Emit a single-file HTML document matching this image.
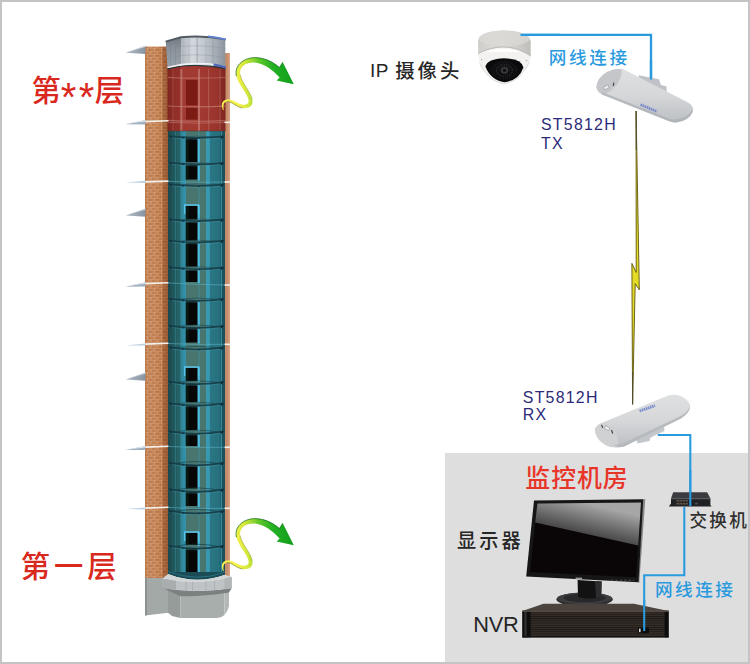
<!DOCTYPE html>
<html><head><meta charset="utf-8"><title>diagram</title>
<style>
html,body{margin:0;padding:0;background:#fff;}
body{width:750px;height:664px;overflow:hidden;}
svg{display:block}
text{font-family:"Liberation Sans","Noto Sans CJK SC",sans-serif;}
</style></head><body>
<svg width="750" height="664" viewBox="0 0 750 664">
<defs>
<pattern id="brick" width="7" height="6" patternUnits="userSpaceOnUse">
 <rect width="7" height="6" fill="#bf7a49"/>
 <rect x="0" y="0" width="7" height="0.7" fill="#ddb088" opacity=".38"/>
 <rect x="0" y="3" width="7" height="0.7" fill="#ddb088" opacity=".38"/>
 <rect x="0" y="0" width="1" height="3" fill="#e0b48e" opacity=".42"/>
 <rect x="3.5" y="3" width="1" height="3" fill="#e0b48e" opacity=".42"/>
 <rect x="2" y="1" width="3" height="1.6" fill="#a9623a" opacity=".3"/>
 <rect x="5.2" y="4" width="1.6" height="1.6" fill="#a9623a" opacity=".3"/>
 <rect x="1" y="4.1" width="2" height="1.4" fill="#d09466" opacity=".4"/>
</pattern>
<linearGradient id="brickshade" x1="0" x2="1" y1="0" y2="0">
 <stop offset="0" stop-color="#7a3c10" stop-opacity=".18"/>
 <stop offset="0.08" stop-color="#fff" stop-opacity=".04"/>
 <stop offset="0.3" stop-color="#fff" stop-opacity=".08"/>
 <stop offset="0.68" stop-color="#fff" stop-opacity="0"/>
 <stop offset="0.76" stop-color="#5a1c00" stop-opacity=".26"/>
 <stop offset="1" stop-color="#5a1c00" stop-opacity=".36"/>
</linearGradient>
<linearGradient id="glass" x1="0" x2="1" y1="0" y2="0">
 <stop offset="0" stop-color="#1a484c"/>
 <stop offset="0.10" stop-color="#20585c"/>
 <stop offset="0.21" stop-color="#266468"/>
 <stop offset="0.225" stop-color="#2f8496"/>
 <stop offset="0.31" stop-color="#3492ac"/>
 <stop offset="0.318" stop-color="#48766f"/>
 <stop offset="0.66" stop-color="#48766f"/>
 <stop offset="0.672" stop-color="#389ab2"/>
 <stop offset="0.725" stop-color="#389ab2"/>
 <stop offset="0.742" stop-color="#2a7684"/>
 <stop offset="0.9" stop-color="#27707e"/>
 <stop offset="0.93" stop-color="#1d545e"/>
 <stop offset="1" stop-color="#1b4e58"/>
</linearGradient>
<linearGradient id="redglass" x1="0" x2="1" y1="0" y2="0">
 <stop offset="0" stop-color="#7e2620"/>
 <stop offset="0.1" stop-color="#8e2d26"/>
 <stop offset="0.22" stop-color="#94302a"/>
 <stop offset="0.24" stop-color="#a03a32"/>
 <stop offset="0.55" stop-color="#a23a31"/>
 <stop offset="0.85" stop-color="#9a342c"/>
 <stop offset="0.93" stop-color="#8a2c26"/>
 <stop offset="1" stop-color="#7c2520"/>
</linearGradient>
<linearGradient id="capcyl" x1="0" x2="1" y1="0" y2="0">
 <stop offset="0" stop-color="#aab2b9"/>
 <stop offset="0.25" stop-color="#d2d8dd"/>
 <stop offset="0.5" stop-color="#c3cad0"/>
 <stop offset="0.8" stop-color="#a3abb3"/>
 <stop offset="1" stop-color="#8b939b"/>
</linearGradient>
<linearGradient id="arrowg" gradientUnits="userSpaceOnUse" x1="236" y1="80" x2="290" y2="75">
 <stop offset="0" stop-color="#f4f04e"/>
 <stop offset="0.2" stop-color="#cfe63a"/>
 <stop offset="0.45" stop-color="#62c82a"/>
 <stop offset="0.7" stop-color="#23b024"/>
 <stop offset="1" stop-color="#14a01c"/>
</linearGradient>
<linearGradient id="camtop" x1="0" x2="1" y1="0" y2="0">
 <stop offset="0" stop-color="#cfcdc9"/>
 <stop offset="0.3" stop-color="#dbd9d5"/>
 <stop offset="0.7" stop-color="#d2d0cc"/>
 <stop offset="1" stop-color="#c0beba"/>
</linearGradient>
<radialGradient id="dome" cx="0.5" cy="0.45" r="0.6">
 <stop offset="0" stop-color="#2c2c30"/>
 <stop offset="0.25" stop-color="#121214"/>
 <stop offset="1" stop-color="#050506"/>
</radialGradient>
<linearGradient id="cpe" x1="0" x2="0" y1="0" y2="1">
 <stop offset="0" stop-color="#dfe0e2"/>
 <stop offset="0.5" stop-color="#d5d7d9"/>
 <stop offset="1" stop-color="#bcbfc3"/>
</linearGradient>
<linearGradient id="screen" gradientUnits="userSpaceOnUse" x1="537" y1="503" x2="560" y2="545">
 <stop offset="0" stop-color="#b4b4b4"/>
 <stop offset="0.5" stop-color="#6a6a6a"/>
 <stop offset="1" stop-color="#1c1a1b"/>
</linearGradient>
<linearGradient id="ledgeg" x1="0" x2="1" y1="0" y2="0">
 <stop offset="0" stop-color="#b4bec8"/><stop offset="1" stop-color="#8793a0"/></linearGradient>
<linearGradient id="cappanel" x1="0" x2="0" y1="0" y2="1">
 <stop offset="0" stop-color="#727b82"/><stop offset="0.4" stop-color="#8a939a"/><stop offset="1" stop-color="#9aa3aa"/></linearGradient>
<pattern id="ribs" width="4" height="2.2" patternUnits="userSpaceOnUse">
 <rect width="4" height="2.2" fill="#362e29"/>
 <rect width="4" height="0.9" fill="#1d1815"/>
</pattern>
</defs>
<rect x="0" y="0" width="750" height="664" fill="#fff"/>
<rect x="445" y="453" width="305" height="211" fill="#dedede"/>
<g id="tower"><rect x="145" y="46.6" width="23.5" height="531.4" fill="url(#brick)"/>
<rect x="145" y="46.6" width="23.5" height="531.4" fill="url(#brickshade)"/>
<rect x="224.5" y="53" width="5.5" height="524.5" fill="#c68e6c"/>
<rect x="228.3" y="53" width="1.7" height="524.5" fill="#d9a588" opacity=".8"/>
<rect x="168" y="66" width="57" height="507" fill="url(#glass)"/>
<rect x="175.05" y="131" width="0.9" height="441" fill="#3f92a6" opacity="0.45"/>
<rect x="198.30" y="131" width="1.2" height="441" fill="#3f9ab4" opacity="0.5"/>
<rect x="220.85" y="131" width="1.1" height="441" fill="#3c9ab2" opacity="0.8"/>
<rect x="185.8" y="138" width="11.8" height="24" fill="#070707"/>
<rect x="185.8" y="138" width="3" height="24" fill="#0d2a22" opacity=".5"/>
<rect x="197.7" y="137" width="2.1" height="26" fill="#4cbae2"/>
<rect x="185.8" y="165" width="11.8" height="14.5" fill="#070707"/>
<rect x="185.8" y="165" width="3" height="14.5" fill="#0d2a22" opacity=".5"/>
<rect x="197.7" y="164" width="2.1" height="16.5" fill="#4cbae2"/>
<rect x="185.8" y="206" width="11.8" height="13.5" fill="#070707"/>
<rect x="185.8" y="206" width="3" height="13.5" fill="#0d2a22" opacity=".5"/>
<rect x="197.7" y="205" width="2.1" height="15.5" fill="#4cbae2"/>
<rect x="185.8" y="222" width="11.8" height="18.5" fill="#070707"/>
<rect x="185.8" y="222" width="3" height="18.5" fill="#0d2a22" opacity=".5"/>
<rect x="197.7" y="221" width="2.1" height="20.5" fill="#4cbae2"/>
<rect x="185.8" y="243" width="11.8" height="23.5" fill="#070707"/>
<rect x="185.8" y="243" width="3" height="23.5" fill="#0d2a22" opacity=".5"/>
<rect x="197.7" y="242" width="2.1" height="25.5" fill="#4cbae2"/>
<rect x="185.8" y="270" width="11.8" height="12" fill="#070707"/>
<rect x="185.8" y="270" width="3" height="12" fill="#0d2a22" opacity=".5"/>
<rect x="197.7" y="269" width="2.1" height="14" fill="#4cbae2"/>
<rect x="185.8" y="301" width="11.8" height="24" fill="#070707"/>
<rect x="185.8" y="301" width="3" height="24" fill="#0d2a22" opacity=".5"/>
<rect x="197.7" y="300" width="2.1" height="26" fill="#4cbae2"/>
<rect x="185.8" y="328" width="11.8" height="14.5" fill="#070707"/>
<rect x="185.8" y="328" width="3" height="14.5" fill="#0d2a22" opacity=".5"/>
<rect x="197.7" y="327" width="2.1" height="16.5" fill="#4cbae2"/>
<rect x="185.8" y="368" width="11.8" height="13" fill="#070707"/>
<rect x="185.8" y="368" width="3" height="13" fill="#0d2a22" opacity=".5"/>
<rect x="197.7" y="367" width="2.1" height="15" fill="#4cbae2"/>
<rect x="185.8" y="384" width="11.8" height="18" fill="#070707"/>
<rect x="185.8" y="384" width="3" height="18" fill="#0d2a22" opacity=".5"/>
<rect x="197.7" y="383" width="2.1" height="20" fill="#4cbae2"/>
<rect x="185.8" y="406" width="11.8" height="24" fill="#070707"/>
<rect x="185.8" y="406" width="3" height="24" fill="#0d2a22" opacity=".5"/>
<rect x="197.7" y="405" width="2.1" height="26" fill="#4cbae2"/>
<rect x="185.8" y="434" width="11.8" height="12" fill="#070707"/>
<rect x="185.8" y="434" width="3" height="12" fill="#0d2a22" opacity=".5"/>
<rect x="197.7" y="433" width="2.1" height="14" fill="#4cbae2"/>
<rect x="185.8" y="465" width="11.8" height="23.5" fill="#070707"/>
<rect x="185.8" y="465" width="3" height="23.5" fill="#0d2a22" opacity=".5"/>
<rect x="197.7" y="464" width="2.1" height="25.5" fill="#4cbae2"/>
<rect x="185.8" y="492" width="11.8" height="14" fill="#070707"/>
<rect x="185.8" y="492" width="3" height="14" fill="#0d2a22" opacity=".5"/>
<rect x="197.7" y="491" width="2.1" height="16" fill="#4cbae2"/>
<rect x="185.8" y="533" width="11.8" height="12" fill="#070707"/>
<rect x="185.8" y="533" width="3" height="12" fill="#0d2a22" opacity=".5"/>
<rect x="197.7" y="532" width="2.1" height="14" fill="#4cbae2"/>
<rect x="185.8" y="548" width="11.8" height="26" fill="#070707"/>
<rect x="185.8" y="548" width="3" height="26" fill="#0d2a22" opacity=".5"/>
<rect x="197.7" y="547" width="2.1" height="28" fill="#4cbae2"/>
<path d="M184.6,214 V205 H198.6 V214" fill="none" stroke="#58c4ea" stroke-width="1.3"/>
<path d="M184.6,376 V367 H198.6 V376" fill="none" stroke="#58c4ea" stroke-width="1.3"/>
<path d="M184.6,541 V532 H198.6 V541" fill="none" stroke="#58c4ea" stroke-width="1.3"/>
<path d="M170,138.2 Q196,134.35 223,138.0" fill="none" stroke="#163d47" stroke-width="1.0" opacity="0.35"/>
<path d="M168.5,136.2 Q196,139.44 224.5,136.4" fill="none" stroke="#163d47" stroke-width="1.7" opacity=".9"/>
<path d="M168.5,137.6 Q196,140.84 224.5,137.8" fill="none" stroke="#4aa0b4" stroke-width="0.7" opacity=".45"/>
<circle cx="222" cy="137.2" r="1.5" fill="#10303a"/>
<circle cx="170.6" cy="137" r="1.2" fill="#143640"/>
<circle cx="183" cy="137.73" r="0.9" fill="#143640"/>
<circle cx="199" cy="137.97" r="0.9" fill="#143640"/>
<path d="M170,164.7 Q196,160.65 223,164.5" fill="none" stroke="#163d47" stroke-width="1.0" opacity="0.38"/>
<path d="M168.5,162.7 Q196,166.09 224.5,162.9" fill="none" stroke="#163d47" stroke-width="1.7" opacity=".9"/>
<path d="M168.5,164.1 Q196,167.49 224.5,164.3" fill="none" stroke="#4aa0b4" stroke-width="0.7" opacity=".45"/>
<circle cx="222" cy="163.7" r="1.5" fill="#10303a"/>
<circle cx="170.6" cy="163.5" r="1.2" fill="#143640"/>
<circle cx="183" cy="164.28" r="0.9" fill="#143640"/>
<circle cx="199" cy="164.54" r="0.9" fill="#143640"/>
<path d="M170,186.2 Q196,181.99 223,186.0" fill="none" stroke="#163d47" stroke-width="1.0" opacity="0.39"/>
<path d="M168.5,184.2 Q196,187.72 224.5,184.4" fill="none" stroke="#163d47" stroke-width="1.7" opacity=".9"/>
<path d="M168.5,185.6 Q196,189.12 224.5,185.8" fill="none" stroke="#4aa0b4" stroke-width="0.7" opacity=".45"/>
<circle cx="222" cy="185.2" r="1.5" fill="#10303a"/>
<circle cx="170.6" cy="185" r="1.2" fill="#143640"/>
<circle cx="183" cy="185.81" r="0.9" fill="#143640"/>
<circle cx="199" cy="186.09" r="0.9" fill="#143640"/>
<path d="M170,221.2 Q196,216.72 223,221.0" fill="none" stroke="#163d47" stroke-width="1.0" opacity="0.42"/>
<path d="M168.5,219.2 Q196,222.92 224.5,219.4" fill="none" stroke="#163d47" stroke-width="1.7" opacity=".9"/>
<path d="M168.5,220.6 Q196,224.32 224.5,220.8" fill="none" stroke="#4aa0b4" stroke-width="0.7" opacity=".45"/>
<circle cx="222" cy="220.2" r="1.5" fill="#10303a"/>
<circle cx="170.6" cy="220" r="1.2" fill="#143640"/>
<circle cx="183" cy="220.88" r="0.9" fill="#143640"/>
<circle cx="199" cy="221.17" r="0.9" fill="#143640"/>
<path d="M170,242.5 Q196,237.86 223,242.3" fill="none" stroke="#163d47" stroke-width="1.0" opacity="0.44"/>
<path d="M168.5,240.5 Q196,244.34 224.5,240.70000000000002" fill="none" stroke="#163d47" stroke-width="1.7" opacity=".9"/>
<path d="M168.5,241.9 Q196,245.74 224.5,242.10000000000002" fill="none" stroke="#4aa0b4" stroke-width="0.7" opacity=".45"/>
<circle cx="222" cy="241.5" r="1.5" fill="#10303a"/>
<circle cx="170.6" cy="241.3" r="1.2" fill="#143640"/>
<circle cx="183" cy="242.21" r="0.9" fill="#143640"/>
<circle cx="199" cy="242.52" r="0.9" fill="#143640"/>
<path d="M170,269.2 Q196,264.35 223,269.0" fill="none" stroke="#163d47" stroke-width="1.0" opacity="0.46"/>
<path d="M168.5,267.2 Q196,271.20 224.5,267.4" fill="none" stroke="#163d47" stroke-width="1.7" opacity=".9"/>
<path d="M168.5,268.6 Q196,272.60 224.5,268.8" fill="none" stroke="#4aa0b4" stroke-width="0.7" opacity=".45"/>
<circle cx="222" cy="268.2" r="1.5" fill="#10303a"/>
<circle cx="170.6" cy="268" r="1.2" fill="#143640"/>
<circle cx="183" cy="268.96" r="0.9" fill="#143640"/>
<circle cx="199" cy="269.28" r="0.9" fill="#143640"/>
<path d="M170,300.7 Q196,295.61 223,300.5" fill="none" stroke="#163d47" stroke-width="1.0" opacity="0.48"/>
<path d="M168.5,298.7 Q196,302.88 224.5,298.9" fill="none" stroke="#163d47" stroke-width="1.7" opacity=".9"/>
<path d="M168.5,300.1 Q196,304.28 224.5,300.3" fill="none" stroke="#4aa0b4" stroke-width="0.7" opacity=".45"/>
<circle cx="222" cy="299.7" r="1.5" fill="#10303a"/>
<circle cx="170.6" cy="299.5" r="1.2" fill="#143640"/>
<circle cx="183" cy="300.52" r="0.9" fill="#143640"/>
<circle cx="199" cy="300.85" r="0.9" fill="#143640"/>
<path d="M170,327.7 Q196,322.41 223,327.5" fill="none" stroke="#163d47" stroke-width="1.0" opacity="0.50"/>
<path d="M168.5,325.7 Q196,330.04 224.5,325.9" fill="none" stroke="#163d47" stroke-width="1.7" opacity=".9"/>
<path d="M168.5,327.1 Q196,331.44 224.5,327.3" fill="none" stroke="#4aa0b4" stroke-width="0.7" opacity=".45"/>
<circle cx="222" cy="326.7" r="1.5" fill="#10303a"/>
<circle cx="170.6" cy="326.5" r="1.2" fill="#143640"/>
<circle cx="183" cy="327.56" r="0.9" fill="#143640"/>
<circle cx="199" cy="327.92" r="0.9" fill="#143640"/>
<path d="M170,349.2 Q196,343.74 223,349.0" fill="none" stroke="#163d47" stroke-width="1.0" opacity="0.52"/>
<path d="M168.5,347.2 Q196,351.67 224.5,347.4" fill="none" stroke="#163d47" stroke-width="1.7" opacity=".9"/>
<path d="M168.5,348.6 Q196,353.07 224.5,348.8" fill="none" stroke="#4aa0b4" stroke-width="0.7" opacity=".45"/>
<circle cx="222" cy="348.2" r="1.5" fill="#10303a"/>
<circle cx="170.6" cy="348" r="1.2" fill="#143640"/>
<circle cx="183" cy="349.10" r="0.9" fill="#143640"/>
<circle cx="199" cy="349.47" r="0.9" fill="#143640"/>
<path d="M170,383.7 Q196,377.98 223,383.5" fill="none" stroke="#163d47" stroke-width="1.0" opacity="0.55"/>
<path d="M168.5,381.7 Q196,386.37 224.5,381.9" fill="none" stroke="#163d47" stroke-width="1.7" opacity=".9"/>
<path d="M168.5,383.1 Q196,387.77 224.5,383.3" fill="none" stroke="#4aa0b4" stroke-width="0.7" opacity=".45"/>
<circle cx="222" cy="382.7" r="1.5" fill="#10303a"/>
<circle cx="170.6" cy="382.5" r="1.2" fill="#143640"/>
<circle cx="183" cy="383.66" r="0.9" fill="#143640"/>
<circle cx="199" cy="384.05" r="0.9" fill="#143640"/>
<path d="M170,405.2 Q196,399.31 223,405.0" fill="none" stroke="#163d47" stroke-width="1.0" opacity="0.56"/>
<path d="M168.5,403.2 Q196,408.00 224.5,403.4" fill="none" stroke="#163d47" stroke-width="1.7" opacity=".9"/>
<path d="M168.5,404.6 Q196,409.40 224.5,404.8" fill="none" stroke="#4aa0b4" stroke-width="0.7" opacity=".45"/>
<circle cx="222" cy="404.2" r="1.5" fill="#10303a"/>
<circle cx="170.6" cy="404" r="1.2" fill="#143640"/>
<circle cx="183" cy="405.20" r="0.9" fill="#143640"/>
<circle cx="199" cy="405.60" r="0.9" fill="#143640"/>
<path d="M170,433.2 Q196,427.10 223,433.0" fill="none" stroke="#163d47" stroke-width="1.0" opacity="0.59"/>
<path d="M168.5,431.2 Q196,436.16 224.5,431.4" fill="none" stroke="#163d47" stroke-width="1.7" opacity=".9"/>
<path d="M168.5,432.6 Q196,437.56 224.5,432.8" fill="none" stroke="#4aa0b4" stroke-width="0.7" opacity=".45"/>
<circle cx="222" cy="432.2" r="1.5" fill="#10303a"/>
<circle cx="170.6" cy="432" r="1.2" fill="#143640"/>
<circle cx="183" cy="433.25" r="0.9" fill="#143640"/>
<circle cx="199" cy="433.66" r="0.9" fill="#143640"/>
<path d="M170,464.7 Q196,458.36 223,464.5" fill="none" stroke="#163d47" stroke-width="1.0" opacity="0.61"/>
<path d="M168.5,462.7 Q196,467.84 224.5,462.9" fill="none" stroke="#163d47" stroke-width="1.7" opacity=".9"/>
<path d="M168.5,464.1 Q196,469.24 224.5,464.3" fill="none" stroke="#4aa0b4" stroke-width="0.7" opacity=".45"/>
<circle cx="222" cy="463.7" r="1.5" fill="#10303a"/>
<circle cx="170.6" cy="463.5" r="1.2" fill="#143640"/>
<circle cx="183" cy="464.80" r="0.9" fill="#143640"/>
<circle cx="199" cy="465.24" r="0.9" fill="#143640"/>
<path d="M170,491.2 Q196,484.66 223,491.0" fill="none" stroke="#163d47" stroke-width="1.0" opacity="0.63"/>
<path d="M168.5,489.2 Q196,494.50 224.5,489.4" fill="none" stroke="#163d47" stroke-width="1.7" opacity=".9"/>
<path d="M168.5,490.6 Q196,495.90 224.5,490.8" fill="none" stroke="#4aa0b4" stroke-width="0.7" opacity=".45"/>
<circle cx="222" cy="490.2" r="1.5" fill="#10303a"/>
<circle cx="170.6" cy="490" r="1.2" fill="#143640"/>
<circle cx="183" cy="491.35" r="0.9" fill="#143640"/>
<circle cx="199" cy="491.80" r="0.9" fill="#143640"/>
<path d="M170,512.7 Q196,505.99 223,512.5" fill="none" stroke="#163d47" stroke-width="1.0" opacity="0.65"/>
<path d="M168.5,510.7 Q196,516.12 224.5,510.9" fill="none" stroke="#163d47" stroke-width="1.7" opacity=".9"/>
<path d="M168.5,512.1 Q196,517.52 224.5,512.3" fill="none" stroke="#4aa0b4" stroke-width="0.7" opacity=".45"/>
<circle cx="222" cy="511.7" r="1.5" fill="#10303a"/>
<circle cx="170.6" cy="511.5" r="1.2" fill="#143640"/>
<circle cx="183" cy="512.89" r="0.9" fill="#143640"/>
<circle cx="199" cy="513.35" r="0.9" fill="#143640"/>
<path d="M170,547.7 Q196,540.73 223,547.5" fill="none" stroke="#163d47" stroke-width="1.0" opacity="0.68"/>
<path d="M168.5,545.7 Q196,551.33 224.5,545.9" fill="none" stroke="#163d47" stroke-width="1.7" opacity=".9"/>
<path d="M168.5,547.1 Q196,552.73 224.5,547.3" fill="none" stroke="#4aa0b4" stroke-width="0.7" opacity=".45"/>
<circle cx="222" cy="546.7" r="1.5" fill="#10303a"/>
<circle cx="170.6" cy="546.5" r="1.2" fill="#143640"/>
<circle cx="183" cy="547.95" r="0.9" fill="#143640"/>
<circle cx="199" cy="548.43" r="0.9" fill="#143640"/>
<rect x="167.5" y="66" width="58" height="65" fill="url(#redglass)"/>
<rect x="186" y="80" width="11.5" height="25.3" fill="#7c1a14"/>
<rect x="186" y="107.6" width="11.5" height="12" fill="#7c1a14"/>
<rect x="172.6" y="69" width="0.8" height="62" fill="#c98a80" opacity="0.35"/>
<rect x="180.20000000000002" y="69" width="2.2" height="62" fill="#c98a80" opacity="0.55"/>
<rect x="198.0" y="69" width="2.0" height="62" fill="#c98a80" opacity="0.6"/>
<rect x="208.2" y="69" width="1.0" height="62" fill="#c98a80" opacity="0.45"/>
<rect x="219.5" y="69" width="1.0" height="62" fill="#c98a80" opacity="0.4"/>
<path d="M168,77.3 Q196,78.89999999999999 225,77.5" fill="none" stroke="#c98a80" stroke-width="1.2" opacity="0.5"/>
<path d="M168,106 Q196,107.6 225,106.2" fill="none" stroke="#c98a80" stroke-width="1.2" opacity="0.6"/>
<path d="M168,120.4 Q196,122.0 225,120.60000000000001" fill="none" stroke="#c98a80" stroke-width="1.2" opacity="0.55"/>
<path d="M168,122.4 Q196,123.8 225,122.6" fill="none" stroke="#d09a90" stroke-width="0.9" opacity=".45"/>
<path d="M167.5,131 H225.5" stroke="#4a3434" stroke-width="1" opacity=".5"/>
<path d="M145,121.6 L168.5,120.8" stroke="#f4f1ec" stroke-width="1.6"/>
<path d="M224.5,122.3 L230,122.3" stroke="#f6f3ef" stroke-width="1.6"/>
<path d="M145,181.9 L168.5,181.10000000000002" stroke="#f4f1ec" stroke-width="1.6"/>
<path d="M224.5,182 L230,182" stroke="#f6f3ef" stroke-width="1.6"/>
<path d="M168.5,181.3 Q196,182.8 224.5,182" stroke="#5fb4c8" stroke-width="1" fill="none" opacity=".55"/>
<path d="M145,283.6 L168.5,282.8" stroke="#f4f1ec" stroke-width="1.6"/>
<path d="M224.5,285 L230,285" stroke="#f6f3ef" stroke-width="1.6"/>
<path d="M168.5,283 Q196,284.5 224.5,285" stroke="#5fb4c8" stroke-width="1" fill="none" opacity=".55"/>
<path d="M145,344.1 L168.5,343.3" stroke="#f4f1ec" stroke-width="1.6"/>
<path d="M224.5,344.3 L230,344.3" stroke="#f6f3ef" stroke-width="1.6"/>
<path d="M168.5,343.5 Q196,345.0 224.5,344.3" stroke="#5fb4c8" stroke-width="1" fill="none" opacity=".55"/>
<path d="M145,447.1 L168.5,446.3" stroke="#f4f1ec" stroke-width="1.6"/>
<path d="M224.5,447.3 L230,447.3" stroke="#f6f3ef" stroke-width="1.6"/>
<path d="M168.5,446.5 Q196,448.0 224.5,447.3" stroke="#5fb4c8" stroke-width="1" fill="none" opacity=".55"/>
<path d="M145,508.1 L168.5,507.3" stroke="#f4f1ec" stroke-width="1.6"/>
<path d="M224.5,508.3 L230,508.3" stroke="#f6f3ef" stroke-width="1.6"/>
<path d="M168.5,507.5 Q196,509.0 224.5,508.3" stroke="#5fb4c8" stroke-width="1" fill="none" opacity=".55"/>
<path d="M125.6,52.8 L145.5,45.699999999999996 L145.5,54.099999999999994 Z" fill="url(#ledgeg)"/><path d="M125.6,52.599999999999994 L145.5,45.699999999999996 L145.5,47.099999999999994 Z" fill="#dfe5ea" opacity=".8"/>
<path d="M125.6,215.5 L145.5,208.4 L145.5,216.8 Z" fill="url(#ledgeg)"/><path d="M125.6,215.3 L145.5,208.4 L145.5,209.8 Z" fill="#dfe5ea" opacity=".8"/>
<path d="M125.6,379.5 L145.5,372.4 L145.5,380.8 Z" fill="url(#ledgeg)"/><path d="M125.6,379.3 L145.5,372.4 L145.5,373.8 Z" fill="#dfe5ea" opacity=".8"/>
<path d="M125.5,124.2 L145.5,120 L145.5,124.4 Z" fill="#9fb0c0"/><path d="M125.5,124 L145.5,120 L145.5,121.6 Z" fill="#e1e8ee"/>
<path d="M125.5,182.6 L145.5,180.8 L145.5,183 Z" fill="#bdd0e2"/>
<path d="M125.5,286.8 L145.5,282.2 L145.5,286.6 Z" fill="#9fb0c0"/><path d="M125.5,286.5 L145.5,282.2 L145.5,283.6 Z" fill="#dfe7ee"/>
<path d="M125.5,345.4 L145.5,343.4 L145.5,345.6 Z" fill="#bdd0e2"/>
<path d="M125.5,450 L145.5,446 L145.5,450 Z" fill="#9fb0c0"/><path d="M125.5,449.8 L145.5,446 L145.5,447.5 Z" fill="#dfe7ee"/>
<path d="M125.5,509 L145.5,507.4 L145.5,509.4 Z" fill="#bdd0e2"/>
<path d="M165.8,41.6 L181,37.2 L181.6,64.8 L167.5,67.9 Z" fill="url(#cappanel)"/>
<path d="M181,37.2 Q203,34.8 225.3,39.3 L225.3,67.6 Q203,62.8 181.6,64.8 Z" fill="url(#capcyl)"/>
<path d="M170.5,40.6 V66.4" stroke="#7a838a" stroke-width="0.6" opacity=".7"/>
<path d="M175.5,40.6 V66.4" stroke="#7a838a" stroke-width="0.6" opacity=".7"/>
<path d="M189,36.6 V64" stroke="#7f8890" stroke-width="0.7" opacity="0.35"/>
<path d="M197.2,36.6 V64" stroke="#7f8890" stroke-width="0.7" opacity="0.8"/>
<path d="M206,36.6 V64" stroke="#7f8890" stroke-width="0.7" opacity="0.35"/>
<path d="M213,36.6 V64" stroke="#7f8890" stroke-width="0.7" opacity="0.5"/>
<path d="M166.6,50.1 L181.2,46.5 Q203,44.3 225.3,48.7" stroke="#858e96" stroke-width="0.6" fill="none" opacity=".6"/>
<path d="M166.6,59.1 L181.2,55.5 Q203,53.3 225.3,57.7" stroke="#858e96" stroke-width="0.6" fill="none" opacity=".6"/>
<path d="M165.6,41.7 L181,37.3 Q203,34.9 225.5,39.4" stroke="#535b64" stroke-width="1.9" fill="none"/>
<path d="M208,36.4 Q217,37.2 225.9,39.6" stroke="#6080d2" stroke-width="1.7" fill="none"/>
<path d="M167.4,68.9 L181.6,66 Q203,63.8 225.4,68.6" stroke="#27383c" stroke-width="1.2" fill="none"/>
<path d="M167.4,67.5 L181.6,64.6 Q200,62.6 214,64.6" stroke="#f0f3f6" stroke-width="1.5" fill="none"/>
<path d="M213.5,64.5 Q220,65.4 225.9,67.6" stroke="#4a68c2" stroke-width="1.9" fill="none"/>
<path d="M145,578 H168.5 V612.8 L145,615.4 Z" fill="#a3a9a7"/>
<path d="M145,578 H147 V615.2 L145,615.4 Z" fill="#8c9290"/>
<path d="M168,588 L180.5,594 L180.5,618 L172,616 L168,612.8 Z" fill="#969c9a"/>
<path d="M180.5,593 H224.5 V615 Q221,618 216,618 H180.5 Z" fill="#a8aeac"/>
<path d="M224.5,588 H229 V606 Q228,611 224.5,615 Z" fill="#b3b7b7"/>
<path d="M163,587.9 Q196.6,594.1 231.8,587.9 L229,592.5 Q200,597 180.5,596.2 L168,590.4 Z" fill="#7b8181"/>
<path d="M168,572 V574 Q196.5,585.3 225,574.7 V572 Z" fill="#1b4c56"/>
<path d="M168,571.5 Q196.5,582.6 225,572.2" fill="none" stroke="#2f7f90" stroke-width="1" opacity=".7"/>
<path d="M168,574 L162.1,578.8 Q196.6,585.5 231.8,576.9 L225,574.7 Q196.5,585.3 168,574 Z" fill="#d2d6d7"/>
<path d="M162.1,578.8 Q196.6,585.5 231.8,576.9 L231.8,587.9 Q196.6,594.1 163,587.9 Z" fill="#bfc3c5"/>
<path d="M162.1,578.8 L176,580.7 L176,590.2 L163,587.9 Z" fill="#a9adaf"/>
<path d="M224.5,578.6 L231.8,576.9 L231.8,587.9 L224.5,589.4 Z" fill="#b2b6b8"/>
<path d="M186,581.6 v9.6" stroke="#a4a8aa" stroke-width="0.7"/>
<path d="M192.5,581.9 v9.6" stroke="#a4a8aa" stroke-width="0.7"/>
<path d="M206,581.7 v9.6" stroke="#a4a8aa" stroke-width="0.7"/>
<path d="M214.5,581 v9.6" stroke="#a4a8aa" stroke-width="0.7"/></g>
<g transform="translate(0,0)"><path d="M222.9,110 C220.6,105 221.8,100.4 226.6,99.4 C232,98.8 236.6,103.2 242,104.6 C246.6,105.6 249.6,103.8 248.4,99.2 C246.4,92 238.4,84.6 236.4,76.2 C234.2,66 242.6,58.2 254.4,57.6 C264.2,57.6 272.8,61.6 279.4,67.6 L282.8,62.2 L293.8,84.2 L276.6,80.4 L279.6,77.4 C272.6,69.6 264.2,63.6 255,62.4 C245.6,62 239,66.8 240.2,74.6 C241.6,83 250.4,91 252.2,99.6 C253.6,106.4 248.6,109 242.4,108 C236.2,106.8 231.8,101.6 227.2,101.4 C224,101.8 222.6,105 223.8,110 Z" fill="url(#arrowg)"/><path d="M236.4,76.2 C234.2,66 242.6,58.2 254.4,57.6 C264.2,57.6 272.8,61.6 279.4,67.6 L282.8,62.2" fill="none" stroke="#0d6a12" stroke-width="0.9" opacity=".8"/><path d="M227.2,101.4 C231.8,101.6 236.2,106.8 242.4,108" fill="none" stroke="#5a6a10" stroke-width="0.8" opacity=".7"/><path d="M240.2,74.6 C241.6,83 250.4,91 252.2,99.6" fill="none" stroke="#7a8a18" stroke-width="0.7" opacity=".6"/></g>
<g transform="translate(0,461)"><path d="M222.9,110 C220.6,105 221.8,100.4 226.6,99.4 C232,98.8 236.6,103.2 242,104.6 C246.6,105.6 249.6,103.8 248.4,99.2 C246.4,92 238.4,84.6 236.4,76.2 C234.2,66 242.6,58.2 254.4,57.6 C264.2,57.6 272.8,61.6 279.4,67.6 L282.8,62.2 L293.8,84.2 L276.6,80.4 L279.6,77.4 C272.6,69.6 264.2,63.6 255,62.4 C245.6,62 239,66.8 240.2,74.6 C241.6,83 250.4,91 252.2,99.6 C253.6,106.4 248.6,109 242.4,108 C236.2,106.8 231.8,101.6 227.2,101.4 C224,101.8 222.6,105 223.8,110 Z" fill="url(#arrowg)"/><path d="M236.4,76.2 C234.2,66 242.6,58.2 254.4,57.6 C264.2,57.6 272.8,61.6 279.4,67.6 L282.8,62.2" fill="none" stroke="#0d6a12" stroke-width="0.9" opacity=".8"/><path d="M227.2,101.4 C231.8,101.6 236.2,106.8 242.4,108" fill="none" stroke="#5a6a10" stroke-width="0.8" opacity=".7"/><path d="M240.2,74.6 C241.6,83 250.4,91 252.2,99.6" fill="none" stroke="#7a8a18" stroke-width="0.7" opacity=".6"/></g>
<path d="M520.5,34.8 H651 V79.5" fill="none" stroke="#2a9adf" stroke-width="2.3"/>
<g id="cam"><path d="M478.2,52 L478.4,56 Q479.3,65.4 485.4,72.4 Q492.4,81.8 503.4,83.8 Q515.4,82.6 523.6,71.4 Q529.8,63.8 530.7,57 L530.7,52 Z" fill="#f3f2f0"/>
<path d="M479.6,63 Q481.4,68 485.4,72.4 Q492.4,81.8 503.4,83.8 Q515.4,82.6 523.6,71.4 Q527.6,66.4 529.4,62" fill="none" stroke="#dad8d4" stroke-width="0.9"/>
<path d="M478,41 Q479,31.4 503,30.2 Q529.6,31 530.7,42 L530.7,57 Q517,48 502.8,48 Q489,48.6 478.3,54.6 Z" fill="url(#camtop)"/>
<path d="M478.3,54.6 Q489,48.6 502.8,48 Q517,48 530.7,57" fill="none" stroke="#f4f3f1" stroke-width="1.1"/>
<path d="M478.3,53.4 Q489,47.4 502.8,46.8 Q517,46.8 530.7,55.8" fill="none" stroke="#bbb9b5" stroke-width="0.9"/>
<ellipse cx="504.3" cy="38.6" rx="25.6" ry="7.6" fill="#dcdad6" opacity=".7"/>
<path d="M485.4,66.6 Q487.6,58.8 504.2,58.3 Q521.6,58.8 523.4,67.4 Q519,80.2 504.4,82.2 Q490.6,80.2 485.4,66.6 Z" fill="url(#dome)"/>
<ellipse cx="504.5" cy="70.5" rx="3.6" ry="3.2" fill="#38383e"/>
<ellipse cx="504.5" cy="70.5" rx="1.6" ry="1.4" fill="#0c0c0e"/>
<ellipse cx="504.5" cy="70.5" rx="8" ry="6" fill="none" stroke="#3e3e42" stroke-width="1.2" stroke-dasharray="0.8 1.1" opacity=".8"/>
<ellipse cx="504.5" cy="70.5" rx="12" ry="8.4" fill="none" stroke="#37373a" stroke-width="1" stroke-dasharray="0.8 1.3" opacity=".7"/>
<circle cx="481.6" cy="59.6" r="0.8" fill="#b8b6b2"/><circle cx="526.6" cy="60.6" r="0.8" fill="#b8b6b2"/></g>
<path d="M520.5,34.8 H560" fill="none" stroke="#2a9adf" stroke-width="2.3"/>
<g id="tx"><path d="M638.6,75.2 L659,79.2 L661,85 L666.6,86.4 L666.6,92 L640,86 Z" fill="#bfc2c6"/>
<path d="M596.4,87 Q597,78 607,72 Q616,67.6 623,69 L689,103 Q694.4,106.6 692.6,112 Q689,121 676,122.4 Q671.6,122.6 668.6,121 L602,94.6 Q596.6,92 596.4,87 Z" fill="url(#cpe)"/>
<path d="M596.4,87 Q597,78 607,72 Q616,67.6 621.6,69.4 Q622.6,74 618,83 Q612,92 603.6,94.4 Q597,92 596.4,87 Z" fill="#c4c6ca"/>
<path d="M602,94.6 L668.6,121 Q672,122.6 676,122.4 Q689,121 692.6,112 L692.9,109 Q688,118 675,119.4 Q671,119.6 668,118.2 L603,92.4 Z" fill="#aeb1b6" opacity=".8"/>
<rect x="604" y="86" width="5" height="3.2" fill="#e8e9ea" stroke="#8a8d92" stroke-width=".5" transform="rotate(-28 606 88)"/>
<rect x="613" y="82.5" width="1.2" height="3.4" fill="#444" transform="rotate(10 613 84)"/>
<path d="M640.6,104.6 L657,111.6" stroke="#5a72c8" stroke-width="2.6" opacity=".75" stroke-dasharray="1.6 0.6"/></g>
<path d="M651,60 V79.5" fill="none" stroke="#2a9adf" stroke-width="2.3"/>
<path d="M636.1,111 L639.3,289.8 L635.2,283.6 L632.6,404.4 L631.9,263.4 L636.2,272.4 Z" fill="#e4dc24" stroke="#6e6418" stroke-width="1" stroke-linejoin="miter"/>
<path d="M636.1,111 L636.3,150" stroke="#4a4636" stroke-width="0.9"/>
<path d="M632.6,404.4 L632.7,372" stroke="#4a4636" stroke-width="0.9"/>
<g id="rx"><path d="M636,438.4 L649,433 L649.6,427 L664,421 L664.4,431 L650.6,437.6 L649.4,441 L637.6,443.6 Z" fill="#c3c6ca"/>
<path d="M595,428.4 Q596.6,425 601,423.2 L668,395.4 Q674,394 680.6,396 Q688.6,399.6 690,405.4 Q690.6,412 681,418.6 L624,446.4 Q618,448.4 610,446.8 Q600.6,443.6 596.6,436 Q594.6,432 595,428.4 Z" fill="url(#cpe)"/>
<path d="M595,428.4 Q596.6,425 601,423.2 Q609,424.6 614.6,431 Q619.4,438 617.6,446.8 Q612.6,447.6 608,446 Q600,442.4 596.6,436 Q594.6,432 595,428.4 Z" fill="#cfd1d3"/>
<path d="M624,446.4 L681,418.6 Q690.6,412 690,405.4 Q688.4,412 679.6,416.6 L622.8,443.4 Q618,445.4 612,444.6 Q617,447.6 624,446.4 Z" fill="#b4b7bb" opacity=".9"/>
<rect x="604.6" y="426.6" width="5" height="3" fill="#eee" stroke="#8a8d92" stroke-width=".5" transform="rotate(28 607 428)"/>
<rect x="601.4" y="424.8" width="1.2" height="3.2" fill="#444" transform="rotate(-20 602 426)"/>
<rect x="611.6" y="430" width="1.2" height="3.6" fill="#444" transform="rotate(-20 612 432)"/>
<path d="M639.6,411 L655,405.6" stroke="#5a72c8" stroke-width="2.8" opacity=".75" stroke-dasharray="1.6 0.6"/></g>
<path d="M657.8,435 H690.3 V498" fill="none" stroke="#2a9adf" stroke-width="2.1"/>
<g id="switch"><path d="M673.2,492.2 H707.2 L710.4,498.6 H671 Z" fill="#3a3c40"/>
<path d="M671,498.4 H710.4 V505 L711.6,506.6 H668.8 L671,503.6 Z" fill="#202124"/>
<path d="M671,498.8 H710.4" stroke="#5c5e62" stroke-width="0.8"/>
<rect x="676.6" y="500.1" width="2.3" height="2.1" fill="#6f6452"/>
<rect x="677.1" y="500.9" width="1.3" height="1.3" fill="#26221e"/>
<rect x="676.6" y="503.0" width="2.3" height="2.1" fill="#6f6452"/>
<rect x="677.1" y="503.8" width="1.3" height="1.3" fill="#26221e"/>
<rect x="679.6" y="500.1" width="2.3" height="2.1" fill="#6f6452"/>
<rect x="680.1" y="500.9" width="1.3" height="1.3" fill="#26221e"/>
<rect x="679.6" y="503.0" width="2.3" height="2.1" fill="#6f6452"/>
<rect x="680.1" y="503.8" width="1.3" height="1.3" fill="#26221e"/>
<rect x="682.6" y="500.1" width="2.3" height="2.1" fill="#6f6452"/>
<rect x="683.1" y="500.9" width="1.3" height="1.3" fill="#26221e"/>
<rect x="682.6" y="503.0" width="2.3" height="2.1" fill="#6f6452"/>
<rect x="683.1" y="503.8" width="1.3" height="1.3" fill="#26221e"/>
<rect x="685.6" y="500.1" width="2.3" height="2.1" fill="#6f6452"/>
<rect x="686.1" y="500.9" width="1.3" height="1.3" fill="#26221e"/>
<rect x="685.6" y="503.0" width="2.3" height="2.1" fill="#6f6452"/>
<rect x="686.1" y="503.8" width="1.3" height="1.3" fill="#26221e"/>
<rect x="695" y="502.8" width="3" height="1.6" fill="#4c4c52"/></g>
<path d="M690.3,470 V506" fill="none" stroke="#2a9adf" stroke-width="2.1"/>
<path d="M684.3,506.8 V575.2 H644.2 V631" fill="none" stroke="#2a9adf" stroke-width="2.1"/>
<defs><linearGradient id="screen2" gradientUnits="userSpaceOnUse" x1="560" y1="497" x2="547" y2="552">
<stop offset="0" stop-color="#a6a6a6"/><stop offset="0.3" stop-color="#707070"/><stop offset="0.55" stop-color="#474545"/><stop offset="0.8" stop-color="#2c2a2a"/><stop offset="1" stop-color="#242222"/></linearGradient></defs>
<g id="monitor"><path d="M642.4,499.4 L645.3,499 L639.3,582.8 L638,582.2 Z" fill="#868688"/>
<path d="M534,500.4 L643.2,499.3 L638.5,582.3 L526.2,576.6 Z" fill="#161616"/>
<path d="M537.4,503.6 L641,502.5 L636,577.2 L530,572 Z" fill="#0a0607"/>
<path d="M537.4,503.6 L641,502.5 L638.2,545.6 L535.2,522.4 Z" fill="url(#screen2)"/>
<rect x="575.6" y="577.6" width="6.4" height="1.7" fill="#999"/>
<path d="M611,580.2 H634" stroke="#555" stroke-width="1" stroke-dasharray="2.4 2"/>
<ellipse cx="584.6" cy="599.4" rx="28.2" ry="6.9" fill="#2a2a2c"/>
<ellipse cx="584.6" cy="598.4" rx="27.4" ry="5.9" fill="#3c3c3f"/>
<ellipse cx="584.6" cy="598" rx="21" ry="4.2" fill="#28282a"/>
<path d="M577.6,580 L601.6,581.4 L601.2,597 Q589,600.4 578,597 Z" fill="#121213"/>
<path d="M595,581 L601.6,581.4 L601.2,597 L596,598 Z" fill="#2d2d30"/></g>
<g id="nvr"><path d="M543.5,603.8 L634,603.8 L668.6,611 L522.4,611 Z" fill="#4b443e"/>
<rect x="522.4" y="610.8" width="146.2" height="26.5" fill="url(#ribs)"/>
<rect x="522.4" y="610.8" width="8.2" height="26.5" fill="#0e0d0d"/>
<rect x="524.4" y="610.8" width="2.2" height="26.5" fill="#3a3a3c" opacity=".8"/>
<rect x="664.6" y="610.8" width="4" height="26.5" fill="#0e0d0d"/>
<rect x="522.4" y="610.6" width="146.2" height="1.2" fill="#5d554d"/>
<rect x="522.4" y="636" width="146.2" height="1.5" fill="#141210"/>
<rect x="638" y="627.6" width="11" height="5.6" fill="#0c0c0c"/>
<rect x="639" y="628.6" width="1.6" height="3.6" fill="#ddd"/></g>
<path d="M644.2,600 V631" fill="none" stroke="#2a9adf" stroke-width="2.1"/>
<text x="31.4" y="101" font-size="29.3" font-weight="500" fill="#d9281d">第</text>
<text x="68.5" y="111" font-size="40" text-anchor="middle" fill="#d9281d">*</text>
<text x="86.6" y="111" font-size="40" text-anchor="middle" fill="#d9281d">*</text>
<text x="94.84" y="101" font-size="29.3" font-weight="500" fill="#d9281d">层</text>
<text x="20.8" y="577.4" font-size="29.3" font-weight="500" fill="#d9281d" letter-spacing="3.9">第一层</text>
<text x="525.3" y="487.1" font-size="24.9" font-weight="500" fill="#e8352a" letter-spacing="0.95">监控机房</text>
<text x="395.2" y="77.9" font-size="19.4" font-weight="500" fill="#262626" letter-spacing="3">摄像头</text>
<text transform="translate(457.11,547.70) scale(1,1.06)" x="0" y="0" font-size="19.2" font-weight="500" fill="#262626" letter-spacing="3">显示器</text>
<text transform="translate(689.39,526.52) scale(1,1.05)" x="0" y="0" font-size="17.6" font-weight="500" fill="#303030" letter-spacing="2.3">交换机</text>
<text x="548.84" y="63.58" font-size="17.6" font-weight="500" fill="#2a9adf" letter-spacing="2.65">网线连接</text>
<text x="654.94" y="595.78" font-size="17.6" font-weight="500" fill="#2a9adf" letter-spacing="2.5">网线连接</text>
<text x="370.0" y="77" font-size="19" fill="#262626" letter-spacing="0.4">IP</text>
<text x="541.0" y="130.2" font-size="15.9" fill="#2b2a78" letter-spacing="1.25">ST5812H</text>
<text x="541.0" y="148.9" font-size="15.9" fill="#2b2a78" letter-spacing="1.25">TX</text>
<text x="522.8" y="402.6" font-size="15.9" fill="#2b2a78" letter-spacing="1.25">ST5812H</text>
<text x="522.8" y="419.9" font-size="15.9" fill="#2b2a78" letter-spacing="1.25">RX</text>
<text x="473.3" y="632.2" font-size="21.8" fill="#262626" letter-spacing="-0.25">NVR</text>
<path d="M0,0 H750 V664 H0 Z M2,2 V662 H748 V2 Z" fill="#c4c4c4" fill-rule="evenodd"/>
</svg>
</body></html>
